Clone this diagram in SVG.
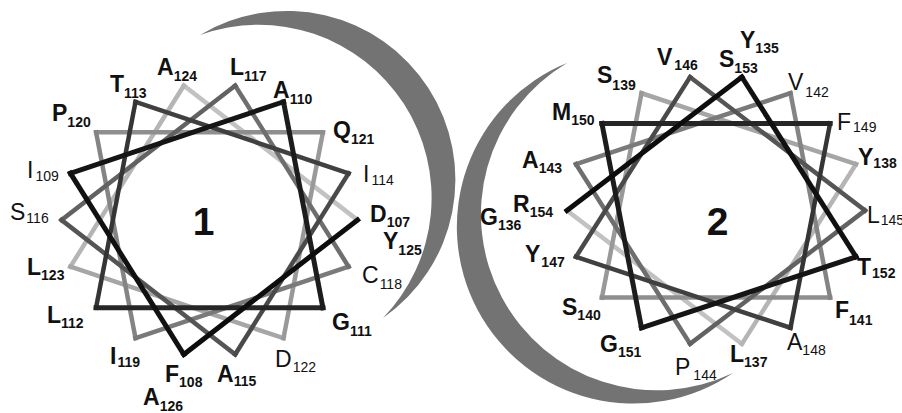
<svg xmlns="http://www.w3.org/2000/svg" width="902" height="413" viewBox="0 0 902 413">
<style>
text{font-family:"Liberation Sans",Arial,sans-serif;fill:#111}
.b{font-weight:bold}
.m{font-size:23px}
.s{font-size:14px}
.n{font-size:39px;font-weight:bold;text-anchor:middle}
line{stroke-width:4.5;stroke-linecap:square;fill:none}
.k{stroke-width:5}
.crescent{fill:#737373}
</style>
<rect width="902" height="413" fill="#fff"/>
<g id="crescents">
<path class="crescent" d="M200,35 A168.6,168.6 0 0 1 383,318 A173,173 0 0 0 200,35 Z"/>
<path class="crescent" d="M567,63 A176.8,176.8 0 1 0 733,373 A176,176 0 0 1 567,63 Z"/>
</g>
<g id="connectors">
<!-- wheel 1: light to dark -->
<line x1="183.8" y1="85.6" x2="357.5" y2="220" stroke="#c2c2c2"/>
<line x1="70.4" y1="266.7" x2="183.8" y2="85.6" stroke="#b5b5b5"/>
<line x1="283.5" y1="338.2" x2="70.4" y2="266.7" stroke="#a6a6a6"/>
<line x1="322.9" y1="132.3" x2="283.5" y2="338.2" stroke="#999"/>
<line x1="96.1" y1="132.3" x2="322.9" y2="132.3" stroke="#8e8e8e"/>
<line x1="135.5" y1="338.2" x2="96.1" y2="132.3" stroke="#848484"/>
<line x1="348.6" y1="266.7" x2="135.5" y2="338.2" stroke="#7a7a7a"/>
<line x1="235.2" y1="85.6" x2="348.6" y2="266.7" stroke="#6e6e6e"/>
<line x1="61.5" y1="220" x2="235.2" y2="85.6" stroke="#626262"/>
<line x1="235.2" y1="354.4" x2="61.5" y2="220" stroke="#555"/>
<line x1="348.6" y1="173.3" x2="235.2" y2="354.4" stroke="#4a4a4a"/>
<line x1="135.5" y1="101.8" x2="348.6" y2="173.3" stroke="#404040"/>
<line x1="96.1" y1="307.7" x2="135.5" y2="101.8" stroke="#353535"/>
<line class="k" x1="322.9" y1="307.7" x2="96.1" y2="307.7" stroke="#262626"/>
<line class="k" x1="283.5" y1="101.8" x2="322.9" y2="307.7" stroke="#1c1c1c"/>
<line class="k" x1="70.4" y1="173.3" x2="283.5" y2="101.8" stroke="#151515"/>
<line class="k" x1="183.8" y1="354.4" x2="70.4" y2="173.3" stroke="#111"/>
<line class="k" x1="357.5" y1="220" x2="183.8" y2="354.4" stroke="#0d0d0d"/>
<!-- wheel 2: light to dark -->
<line x1="567" y1="210.5" x2="741.9" y2="343.9" stroke="#c2c2c2"/>
<line x1="741.9" y1="343.9" x2="856" y2="164.2" stroke="#b5b5b5"/>
<line x1="856" y1="164.2" x2="641.5" y2="93.2" stroke="#a6a6a6"/>
<line x1="641.5" y1="93.2" x2="601.9" y2="297.6" stroke="#999"/>
<line x1="601.9" y1="297.6" x2="830.1" y2="297.6" stroke="#8e8e8e"/>
<line x1="830.1" y1="297.6" x2="790.5" y2="93.2" stroke="#848484"/>
<line x1="790.5" y1="93.2" x2="576" y2="164.2" stroke="#7a7a7a"/>
<line x1="576" y1="164.2" x2="690.1" y2="343.9" stroke="#6e6e6e"/>
<line x1="690.1" y1="343.9" x2="865" y2="210.5" stroke="#626262"/>
<line x1="865" y1="210.5" x2="690.1" y2="77.1" stroke="#555"/>
<line x1="690.1" y1="77.1" x2="576" y2="256.8" stroke="#4a4a4a"/>
<line x1="576" y1="256.8" x2="790.5" y2="327.8" stroke="#404040"/>
<line x1="790.5" y1="327.8" x2="830.1" y2="123.4" stroke="#353535"/>
<line class="k" x1="830.1" y1="123.4" x2="601.9" y2="123.4" stroke="#262626"/>
<line class="k" x1="601.9" y1="123.4" x2="641.5" y2="327.8" stroke="#1c1c1c"/>
<line class="k" x1="641.5" y1="327.8" x2="856" y2="256.8" stroke="#151515"/>
<line class="k" x1="856" y1="256.8" x2="741.9" y2="77.1" stroke="#111"/>
<line class="k" x1="741.9" y1="77.1" x2="567" y2="210.5" stroke="#0d0d0d"/>
</g>
<g id="wheel1">
<g id="label-1"><text class="n" x="203.5" y="235">1</text></g>
<g id="A124"><text class="m b" x="157" y="75">A<tspan class="s" dy="6">124</tspan></text></g>
<g id="L117"><text class="m b" x="230" y="75">L<tspan class="s" dy="6">117</tspan></text></g>
<g id="T113"><text class="m b" x="110" y="92">T<tspan class="s" dy="6">113</tspan></text></g>
<g id="A110"><text class="m b" x="273" y="98">A<tspan class="s" dy="6">110</tspan></text></g>
<g id="P120"><text class="m b" x="52" y="121">P<tspan class="s" dy="6">120</tspan></text></g>
<g id="Q121"><text class="m b" x="333" y="138">Q<tspan class="s" dy="6">121</tspan></text></g>
<g id="I109"><text class="m" x="27" y="178">I<tspan class="s" dy="3" dx="2">109</tspan></text></g>
<g id="I114"><text class="m" x="363" y="182">I<tspan class="s" dy="3" dx="2">114</tspan></text></g>
<g id="S116"><text class="m" x="10" y="220">S<tspan class="s" dy="3" dx="1">116</tspan></text></g>
<g id="D107"><text class="m b" x="370" y="222">D<tspan class="s" dy="5">107</tspan></text></g>
<g id="Y125"><text class="m b" x="383" y="249">Y<tspan class="s" dy="6">125</tspan></text></g>
<g id="L123"><text class="m b" x="27" y="275">L<tspan class="s" dy="5">123</tspan></text></g>
<g id="C118"><text class="m" x="362" y="283">C<tspan class="s" dy="6" dx="1">118</tspan></text></g>
<g id="L112"><text class="m b" x="47" y="323">L<tspan class="s" dy="5">112</tspan></text></g>
<g id="G111"><text class="m b" x="332" y="330">G<tspan class="s" dy="6">111</tspan></text></g>
<g id="I119"><text class="m b" x="110" y="364">I<tspan class="s" dy="3" dx="1">119</tspan></text></g>
<g id="D122"><text class="m" x="275" y="367">D<tspan class="s" dy="5" dx="1">122</tspan></text></g>
<g id="F108"><text class="m b" x="165" y="382">F<tspan class="s" dy="5">108</tspan></text></g>
<g id="A115"><text class="m b" x="217" y="382">A<tspan class="s" dy="4">115</tspan></text></g>
<g id="A126"><text class="m b" x="143" y="405">A<tspan class="s" dy="6">126</tspan></text></g>
</g>
<g id="wheel2">
<g id="label-2"><text class="n" x="717.5" y="235">2</text></g>
<g id="Y135"><text class="m b" x="740" y="48">Y<tspan class="s" dy="5">135</tspan></text></g>
<g id="S153"><text class="m b" x="719" y="67">S<tspan class="s" dy="6">153</tspan></text></g>
<g id="V146"><text class="m b" x="657" y="65">V<tspan class="s" dy="5" dx="2">146</tspan></text></g>
<g id="S139"><text class="m b" x="597" y="83">S<tspan class="s" dy="7">139</tspan></text></g>
<g id="V142"><text class="m" x="788" y="90">V<tspan class="s" dy="7" dx="2">142</tspan></text></g>
<g id="M150"><text class="m b" x="552" y="120">M<tspan class="s" dy="5">150</tspan></text></g>
<g id="F149"><text class="m" x="837" y="130">F<tspan class="s" dy="2" dx="2">149</tspan></text></g>
<g id="A143"><text class="m b" x="522" y="168">A<tspan class="s" dy="5">143</tspan></text></g>
<g id="Y138"><text class="m b" x="858" y="165">Y<tspan class="s" dy="3">138</tspan></text></g>
<g id="R154"><text class="m b" x="513" y="212">R<tspan class="s" dy="5">154</tspan></text></g>
<g id="G136"><text class="m b" x="480" y="225">G<tspan class="s" dy="5">136</tspan></text></g>
<g id="L145"><text class="m" x="867" y="223">L<tspan class="s" dy="2" dx="1">145</tspan></text></g>
<g id="Y147"><text class="m b" x="525" y="262">Y<tspan class="s" dy="5" dx="1">147</tspan></text></g>
<g id="T152"><text class="m b" x="857" y="275">T<tspan class="s" dy="3" dx="1">152</tspan></text></g>
<g id="S140"><text class="m b" x="562" y="315">S<tspan class="s" dy="5">140</tspan></text></g>
<g id="F141"><text class="m b" x="835" y="318">F<tspan class="s" dy="7">141</tspan></text></g>
<g id="G151"><text class="m b" x="600" y="352">G<tspan class="s" dy="5">151</tspan></text></g>
<g id="A148"><text class="m" x="787" y="350">A<tspan class="s" dy="5">148</tspan></text></g>
<g id="L137"><text class="m b" x="730" y="362">L<tspan class="s" dy="5">137</tspan></text></g>
<g id="P144"><text class="m" x="675" y="375">P<tspan class="s" dy="5" dx="3">144</tspan></text></g>
</g>
</svg>
